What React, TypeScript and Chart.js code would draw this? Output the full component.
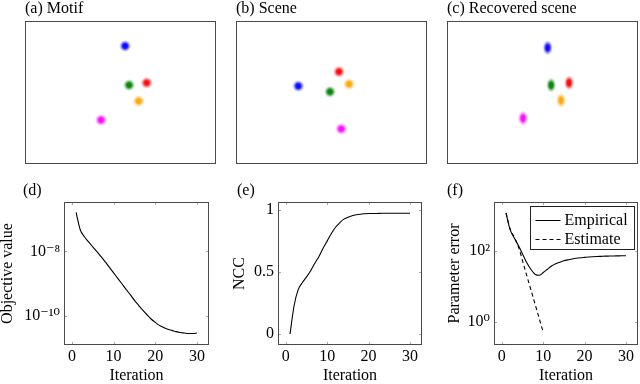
import React, { useEffect, useRef } from "react";
import { Chart, registerables } from "chart.js";

Chart.register(...registerables);

const FONT = '"Liberation Serif", "DejaVu Serif", serif';

// ---------- Top row: blob centres (image coords, x 0..100, y 0..75) ----------
const motifX = [52.4, 54.5, 63.7, 59.5, 39.8];
const motifY = [61.9, 41.4, 42.6, 33.0, 23.1];
const sceneX = [32.6, 49.2, 53.9, 59.2, 55.1];
const sceneY = [40.9, 37.9, 48.4, 41.9, 18.4];
const recoveredX = [52.7, 54.5, 63.9, 59.7, 39.8];
const recoveredY = [61.0, 41.4, 42.6, 33.4, 24.0];

// ---------- Bottom row ----------
const iterations = [
  1, 2, 3, 4, 5, 6, 7, 8, 9, 10, 11, 12, 13, 14, 15, 16, 17, 18, 19, 20, 21, 22, 23, 24, 25, 26, 27, 28, 29, 30,
];
const objectiveValue = [
  1.62e-7, 4.68e-8, 2.82e-8, 1.95e-8, 1.38e-8, 9.8e-9, 6.8e-9, 4.7e-9, 3.16e-9, 2.14e-9, 1.45e-9, 9.8e-10,
  6.6e-10, 4.5e-10, 3.0e-10, 2.1e-10, 1.48e-10, 1.07e-10, 7.9e-11, 6.2e-11, 5.0e-11, 4.3e-11, 3.8e-11, 3.5e-11,
  3.2e-11, 3.0e-11, 2.9e-11, 2.8e-11, 2.79e-11, 2.9e-11,
];
const ncc = [
  0.0, 0.23, 0.36, 0.415, 0.46, 0.51, 0.57, 0.625, 0.69, 0.75, 0.81, 0.86, 0.895, 0.925, 0.94, 0.952, 0.96, 0.965,
  0.968, 0.97, 0.971, 0.971, 0.972, 0.972, 0.972, 0.973, 0.973, 0.973, 0.973, 0.973,
];
const paramErrorEmpirical = [
  1175, 398, 229, 141, 81.3, 46.8, 30.2, 21.9, 20.4, 24.5, 30.2, 37.2, 43.2, 47.9, 52.5, 55.6, 58.9, 61.7, 63.8,
  65.3, 66.8, 68.1, 69.2, 70.0, 70.8, 71.3, 71.8, 72.1, 72.4, 72.4,
];
const estimateIterations = [1, 2, 3, 4, 5, 6, 7, 8, 9, 10];
const paramErrorEstimate = [1175, 417, 240, 132, 52.5, 20.4, 8.1, 3.2, 1.26, 0.5];

const xTickValues = [0, 10, 20, 30];
const objectiveTicks = [1e-10, 1e-8];
const nccTicks = [0, 0.5, 1];
const paramTicks = [1, 100];

// ---------- styling ----------
const blobRGB = ["0,0,255", "0,128,0", "255,0,0", "255,165,0", "255,0,255"];
const FRAME = "#4a4a4a";
const TICK = "#a8a8a8";

const SUP: Record<string, string> = {
  "-": "\u207B", "0": "\u2070", "1": "\u00B9", "2": "\u00B2", "3": "\u00B3", "4": "\u2074",
  "5": "\u2075", "6": "\u2076", "7": "\u2077", "8": "\u2078", "9": "\u2079",
};
function powLabel(v: number) {
  const e = Math.round(Math.log10(v));
  return "10" + String(e).split("").map((c) => SUP[c] || c).join("");
}

function makeBlob(rgb: string, rx: number, ry: number) {
  const w = Math.ceil(rx * 2) + 2;
  const h = Math.ceil(ry * 2) + 2;
  const c = document.createElement("canvas");
  c.width = w;
  c.height = h;
  const ctx = c.getContext("2d")!;
  ctx.translate(w / 2, h / 2);
  ctx.scale(1, ry / rx);
  const g = ctx.createRadialGradient(0, 0, 0, 0, 0, rx);
  g.addColorStop(0, `rgba(${rgb},1)`);
  g.addColorStop(0.4, `rgba(${rgb},0.9)`);
  g.addColorStop(0.7, `rgba(${rgb},0.35)`);
  g.addColorStop(1, `rgba(${rgb},0)`);
  ctx.fillStyle = g;
  ctx.beginPath();
  ctx.arc(0, 0, rx, 0, Math.PI * 2);
  ctx.fill();
  return c;
}

function framePlugin(withTicks: boolean) {
  return {
    id: "frame",
    beforeDatasetsDraw(chart: any) {
      if (!withTicks) return;
      const { ctx, chartArea: a, scales } = chart;
      ctx.save();
      ctx.strokeStyle = TICK;
      ctx.lineWidth = 1;
      const L = 3;
      for (const t of scales.x.ticks) {
        const p = Math.round(scales.x.getPixelForValue(t.value)) + 0.5;
        ctx.beginPath();
        ctx.moveTo(p, a.bottom);
        ctx.lineTo(p, a.bottom - L);
        ctx.moveTo(p, a.top);
        ctx.lineTo(p, a.top + L);
        ctx.stroke();
      }
      for (const t of scales.y.ticks) {
        const p = Math.round(scales.y.getPixelForValue(t.value)) + 0.5;
        ctx.beginPath();
        ctx.moveTo(a.left, p);
        ctx.lineTo(a.left + L, p);
        ctx.moveTo(a.right, p);
        ctx.lineTo(a.right - L, p);
        ctx.stroke();
      }
      ctx.restore();
    },
    afterDatasetsDraw(chart: any) {
      const { ctx, chartArea: a } = chart;
      ctx.save();
      ctx.strokeStyle = FRAME;
      ctx.lineWidth = 1;
      ctx.strokeRect(
        Math.round(a.left) + 0.5,
        Math.round(a.top) + 0.5,
        Math.round(a.right - a.left) - 1,
        Math.round(a.bottom - a.top) - 1
      );
      ctx.restore();
    },
  };
}

function labelPlugin(text: string, x: number, y: number) {
  return {
    id: "panelLabel",
    afterDraw(chart: any) {
      const ctx = chart.ctx;
      ctx.save();
      ctx.font = `16px ${FONT}`;
      ctx.fillStyle = "#000";
      ctx.textAlign = "left";
      ctx.textBaseline = "alphabetic";
      ctx.fillText(text, x, y);
      ctx.restore();
    },
  };
}

const legendPlugin = {
  id: "boxLegend",
  afterDraw(chart: any) {
    const { ctx, chartArea: a } = chart;
    const w = 104;
    const h = 43;
    const x0 = Math.round(a.right - 4 - w) + 0.5;
    const y0 = Math.round(a.top + 4) + 0.5;
    ctx.save();
    ctx.fillStyle = "#fff";
    ctx.fillRect(x0, y0, w, h);
    ctx.strokeStyle = "#222";
    ctx.lineWidth = 1;
    ctx.strokeRect(x0, y0, w, h);
    ctx.font = `16px ${FONT}`;
    ctx.textBaseline = "middle";
    ctx.fillStyle = "#000";
    chart.data.datasets.forEach((ds: any, i: number) => {
      const cy = y0 + 13 + i * 19;
      ctx.strokeStyle = "#000";
      ctx.lineWidth = 1;
      ctx.setLineDash(ds.borderDash || []);
      ctx.beginPath();
      ctx.moveTo(x0 + 5, Math.round(cy) + 0.5);
      ctx.lineTo(x0 + 30, Math.round(cy) + 0.5);
      ctx.stroke();
      ctx.setLineDash([]);
      ctx.fillText(ds.label, x0 + 34, cy + 1);
    });
    ctx.restore();
  },
};

function imageConfig(xs: number[], ys: number[], rx: number, ry: number, padL: number, padR: number, label: string) {
  return {
    type: "scatter",
    data: {
      datasets: [
        {
          data: xs.map((x, i) => ({ x, y: ys[i] })),
          pointStyle: blobRGB.map((c) => makeBlob(c, rx, ry)),
          pointRadius: 6,
        },
      ],
    },
    options: {
      responsive: false,
      animation: false,
      events: [],
      layout: { autoPadding: false, padding: { left: padL, top: 21, right: padR, bottom: 4 } },
      scales: {
        x: { type: "linear", display: false, min: 0, max: 100 },
        y: { type: "linear", display: false, min: 0, max: 75 },
      },
      plugins: { legend: { display: false }, tooltip: { enabled: false } },
    },
    plugins: [framePlugin(false), labelPlugin(label, padL, 12.5)],
  };
}

const tickFont = { family: FONT, size: 16 };
const titleFont = { family: FONT, size: 16, lineHeight: 1 };

function xScale() {
  return {
    type: "linear",
    min: -1.9,
    max: 32.9,
    afterBuildTicks: (s: any) => {
      s.ticks = xTickValues.map((v) => ({ value: v }));
    },
    afterFit: (s: any) => {
      s.height = 39;
    },
    grid: { display: false, drawTicks: false },
    border: { display: false },
    ticks: { padding: 2, color: "#000", font: tickFont, maxRotation: 0, autoSkip: false },
    title: { display: true, text: "Iteration", color: "#000", font: titleFont, padding: 0 },
  };
}

function yScale(opts: any, width: number, tickVals: number[], fmt: (v: number) => string, title: string) {
  return {
    ...opts,
    afterBuildTicks: (s: any) => {
      s.ticks = tickVals.map((v) => ({ value: v }));
    },
    afterFit: (s: any) => {
      s.width = width;
    },
    grid: { display: false, drawTicks: false },
    border: { display: false },
    ticks: { padding: 4, color: "#000", font: tickFont, callback: (v: any) => fmt(Number(v)) },
    title: { display: true, text: title, color: "#000", font: titleFont, padding: 0 },
  };
}

function lineDataset(label: string, xs: number[], ys: number[], dash: number[] = []) {
  return {
    label,
    data: xs.map((x, i) => ({ x, y: ys[i] })),
    borderColor: "#000",
    borderWidth: 1.1,
    borderDash: dash,
    pointRadius: 0,
    fill: false,
    cubicInterpolationMode: "monotone",
  };
}

function plotConfig(datasets: any[], y: any, padR: number, label: string, lx: number, extra: any[] = []) {
  return {
    type: "line",
    data: { datasets },
    options: {
      responsive: false,
      animation: false,
      events: [],
      layout: { autoPadding: false, padding: { left: 0, top: 26, right: padR, bottom: 0 } },
      scales: { x: xScale(), y },
      plugins: { legend: { display: false }, tooltip: { enabled: false } },
    },
    plugins: [framePlugin(true), labelPlugin(label, lx, 19), ...extra],
  };
}

type PanelProps = { left: number; top: number; width: number; height: number; make: () => any };

function Panel({ left, top, width, height, make }: PanelProps) {
  const ref = useRef<HTMLCanvasElement>(null);
  useEffect(() => {
    let chart: Chart | null = null;
    let cancelled = false;
    const build = () => {
      if (cancelled || !ref.current) return;
      chart = new Chart(ref.current, make());
    };
    const fonts = (document as any).fonts;
    if (fonts && fonts.load) {
      Promise.all([fonts.load('16px "Liberation Serif"'), fonts.load('12px "Liberation Serif"')]).then(build, build);
    } else {
      build();
    }
    return () => {
      cancelled = true;
      if (chart) chart.destroy();
    };
  }, []);
  return (
    <canvas
      ref={ref}
      width={width}
      height={height}
      style={{ position: "absolute", left, top, width, height, display: "block" }}
    />
  );
}

export default function App() {
  return (
    <div
      style={{
        position: "absolute",
        left: 0,
        top: 0,
        width: 640,
        height: 384,
        background: "#fff",
        overflow: "hidden",
        fontFamily: FONT,
      }}
    >
      <Panel left={0} top={0} width={218} height={168} make={() => imageConfig(motifX, motifY, 6, 6, 25, 2, "(a) Motif")} />
      <Panel left={218} top={0} width={212} height={168} make={() => imageConfig(sceneX, sceneY, 6, 6, 18, 3, "(b) Scene")} />
      <Panel
        left={430}
        top={0}
        width={210}
        height={168}
        make={() => imageConfig(recoveredX, recoveredY, 5, 7.5, 17, 2, "(c) Recovered scene")}
      />
      <Panel
        left={0}
        top={176}
        width={215}
        height={208}
        make={() =>
          plotConfig(
            [lineDataset("Objective value", iterations, objectiveValue)],
            yScale({ type: "logarithmic", min: 1.23e-11, max: 3.4e-7 }, 64, objectiveTicks, powLabel, "Objective value"),
            6,
            "(d)",
            23
          )
        }
      />
      <Panel
        left={232}
        top={176}
        width={196}
        height={208}
        make={() =>
          plotConfig(
            [lineDataset("NCC", iterations, ncc)],
            yScale({ type: "linear", min: -0.088, max: 1.063 }, 46, nccTicks, (v) => String(v), "NCC"),
            6,
            "(e)",
            5
          )
        }
      />
      <Panel
        left={447}
        top={176}
        width={193}
        height={208}
        make={() =>
          plotConfig(
            [
              lineDataset("Empirical", iterations, paramErrorEmpirical),
              lineDataset("Estimate", estimateIterations, paramErrorEstimate, [4, 3]),
            ],
            yScale({ type: "logarithmic", min: 0.219, max: 2400 }, 47, paramTicks, powLabel, "Parameter error"),
            2,
            "(f)",
            0,
            [legendPlugin]
          )
        }
      />
    </div>
  );
}
